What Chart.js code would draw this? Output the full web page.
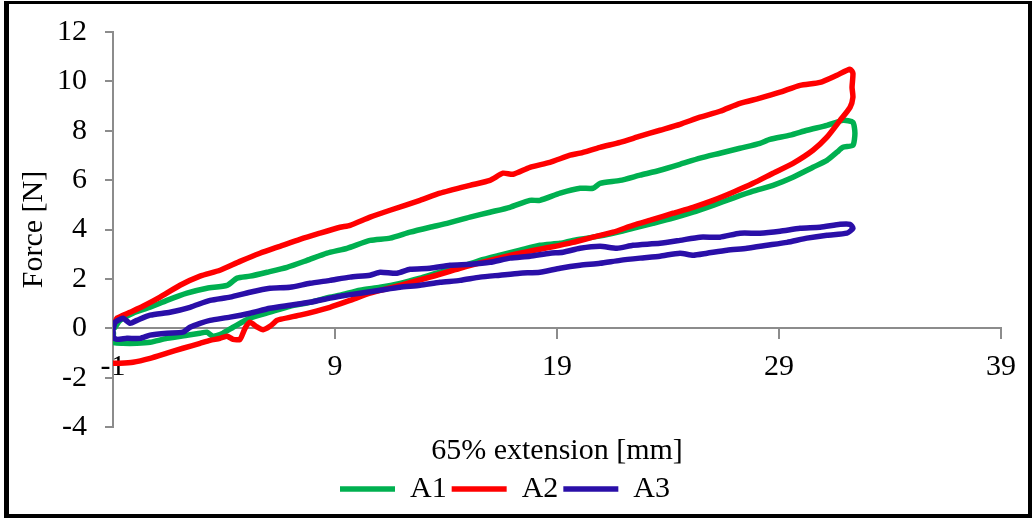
<!DOCTYPE html>
<html>
<head>
<meta charset="utf-8">
<script src="https://cdn.jsdelivr.net/npm/chart.js@4"></script>
<style>
  body { margin: 0; background: #fff; }
  #frame {
    position: absolute; left: 4px; top: 1px;
    width: 1019px; height: 510px;
    border-left: 5px solid #000; border-top: 3px solid #000;
    border-right: 4px solid #000; border-bottom: 4px solid #000;
  }
</style>
</head>
<body>
<div id="frame"><canvas id="chart"></canvas></div>
<script>
// extension [mm] / force [N]
const a1Ext = [-0.91, -0.68, -0.10, 0.67, 1.43, 2.33, 3.23, 4.14, 4.59, 5.17, 5.94, 6.84, 7.74, 8.64, 9.54, 10.58, 11.48, 12.38, 13.28, 14.05, 15.08, 15.98, 16.88, 17.78, 18.23, 19.14, 20.04, 20.62, 20.94, 21.84, 22.74, 23.64, 24.54, 25.44, 26.34, 27.24, 28.14, 28.59, 29.50, 30.26, 31.16, 31.88, 32.33, 32.42, 32.33, 31.88, 31.61, 31.16, 30.53, 29.63, 28.73, 27.83, 26.93, 26.03, 25.13, 24.23, 23.32, 22.42, 21.52, 20.62, 19.72, 19.14, 18.23, 17.33, 16.43, 15.53, 14.63, 13.73, 12.83, 11.93, 11.03, 10.13, 9.23, 8.77, 7.87, 6.97, 6.07, 5.17, 4.41, 3.95, 3.50, 3.23, 2.92, 2.33, 1.43, 0.67, 0.08, -0.55, -1.00, -0.98];
const a1Force = [0.04, 0.32, 0.61, 0.85, 1.13, 1.42, 1.62, 1.74, 2.03, 2.11, 2.27, 2.47, 2.75, 3.04, 3.24, 3.56, 3.65, 3.89, 4.09, 4.25, 4.50, 4.70, 4.90, 5.18, 5.18, 5.47, 5.67, 5.67, 5.87, 5.99, 6.20, 6.40, 6.64, 6.89, 7.09, 7.29, 7.49, 7.65, 7.82, 8.02, 8.22, 8.42, 8.34, 7.90, 7.41, 7.33, 7.13, 6.80, 6.52, 6.12, 5.79, 5.55, 5.27, 4.98, 4.70, 4.46, 4.25, 4.05, 3.85, 3.69, 3.56, 3.44, 3.36, 3.16, 2.96, 2.75, 2.47, 2.27, 2.03, 1.82, 1.66, 1.54, 1.34, 1.26, 1.05, 0.89, 0.65, 0.41, 0.04, -0.20, -0.32, -0.16, -0.20, -0.28, -0.41, -0.57, -0.61, -0.61, -0.57, -0.20];

const a2Ext = [-0.91, -0.82, -0.23, 0.35, 1.12, 2.02, 2.92, 3.82, 4.72, 5.62, 6.52, 7.42, 8.32, 9.23, 9.68, 10.58, 11.48, 12.83, 13.73, 15.08, 15.98, 16.57, 17.02, 17.78, 18.68, 19.59, 20.04, 20.94, 21.84, 22.74, 23.64, 24.54, 25.44, 26.34, 27.24, 28.14, 29.05, 29.95, 30.85, 31.61, 32.20, 32.33, 32.29, 32.33, 32.20, 31.75, 31.16, 30.53, 29.63, 28.73, 27.83, 26.93, 26.03, 25.13, 24.23, 23.32, 22.42, 21.52, 20.62, 19.72, 18.68, 17.33, 15.98, 14.63, 13.28, 11.93, 10.58, 9.68, 8.77, 7.42, 6.52, 6.39, 6.07, 5.76, 5.49, 5.17, 4.95, 4.72, 4.41, 4.14, 3.82, 3.37, 2.92, 2.15, 1.43, 0.67, -0.10, -0.68, -1.00];
const a2Force = [0.24, 0.41, 0.65, 0.89, 1.26, 1.74, 2.11, 2.35, 2.71, 3.04, 3.32, 3.60, 3.85, 4.09, 4.17, 4.50, 4.78, 5.18, 5.47, 5.79, 5.99, 6.28, 6.24, 6.52, 6.72, 7.01, 7.09, 7.33, 7.53, 7.78, 8.02, 8.26, 8.55, 8.79, 9.11, 9.32, 9.56, 9.84, 9.96, 10.25, 10.49, 10.33, 9.76, 9.36, 8.95, 8.42, 7.74, 7.21, 6.68, 6.28, 5.87, 5.51, 5.18, 4.90, 4.66, 4.41, 4.17, 3.89, 3.69, 3.48, 3.28, 3.04, 2.75, 2.43, 2.07, 1.74, 1.42, 1.13, 0.85, 0.53, 0.36, 0.32, 0.08, -0.06, 0.05, 0.24, 0.00, -0.45, -0.45, -0.32, -0.41, -0.49, -0.61, -0.81, -1.01, -1.22, -1.38, -1.42, -1.42];

const a3Ext = [-1.00, -0.91, -0.77, -0.55, -0.23, 0.08, 0.67, 1.57, 2.47, 3.37, 4.27, 5.17, 6.07, 6.97, 7.87, 8.77, 9.68, 10.58, 11.03, 11.79, 12.38, 13.28, 14.18, 15.08, 15.98, 16.88, 17.78, 18.68, 19.27, 20.04, 20.94, 21.70, 22.42, 23.64, 24.54, 25.44, 26.34, 27.24, 28.14, 29.05, 29.95, 30.85, 31.75, 32.20, 32.33, 32.06, 31.16, 30.26, 29.36, 28.46, 27.56, 26.66, 25.76, 25.13, 24.54, 23.64, 22.74, 21.84, 20.94, 20.04, 19.14, 18.23, 17.33, 16.43, 15.53, 14.63, 13.73, 12.83, 11.93, 11.03, 10.13, 9.23, 8.77, 7.87, 6.97, 6.07, 5.17, 4.27, 3.37, 2.92, 2.47, 2.15, 1.43, 0.67, 0.22, -0.37, -0.82, -1.00, -1.00];
const a3Force = [-0.08, 0.24, 0.32, 0.41, 0.20, 0.32, 0.53, 0.65, 0.85, 1.13, 1.26, 1.46, 1.62, 1.66, 1.82, 1.94, 2.07, 2.15, 2.27, 2.23, 2.39, 2.43, 2.55, 2.59, 2.67, 2.84, 2.92, 3.04, 3.08, 3.24, 3.32, 3.24, 3.36, 3.44, 3.56, 3.69, 3.69, 3.85, 3.85, 3.93, 4.05, 4.09, 4.21, 4.21, 4.05, 3.85, 3.77, 3.65, 3.48, 3.36, 3.24, 3.16, 3.04, 2.96, 3.04, 2.92, 2.84, 2.75, 2.63, 2.55, 2.43, 2.27, 2.23, 2.15, 2.07, 1.94, 1.86, 1.74, 1.66, 1.54, 1.42, 1.30, 1.22, 1.05, 0.93, 0.81, 0.61, 0.45, 0.32, 0.20, 0.04, -0.16, -0.20, -0.28, -0.41, -0.41, -0.45, -0.36, -0.08];

const seriesNames = ['A1', 'A2', 'A3'];
const seriesColors = ['#00b050', '#ff0000', '#2a0fa8'];
const xTickValues = [-1, 9, 19, 29, 39];

Chart.defaults.font.family = "'Liberation Serif', 'Times New Roman', serif";
Chart.defaults.font.size = 30;
Chart.defaults.color = '#000';

function toPoints(xs, ys) {
    return xs.map((x, i) => ({ x, y: ys[i] }));
}

const allSeries = [[a1Ext, a1Force], [a2Ext, a2Force], [a3Ext, a3Force]];
const datasets = allSeries.map(([xs, ys], i) => ({
    label: seriesNames[i],
    data: toPoints(xs, ys),
    showLine: true,
    borderColor: seriesColors[i],
    backgroundColor: seriesColors[i],
    borderWidth: 5.5,
    borderJoinStyle: 'round',
    borderCapStyle: 'round',
    pointRadius: 0,
    tension: 0.2,
    // Excel draws later series on top
    order: 2 - i,
}));

const axisGray = '#8c8c8c';

new Chart(document.getElementById('chart'), {
    type: 'scatter',
    data: { datasets },
    options: {
        responsive: true,
        maintainAspectRatio: false,
        animation: false,
        layout: { padding: { left: 0, top: 28, right: 27, bottom: 0 } },
        scales: {
            x: {
                type: 'linear',
                position: { y: 0 },
                min: -1,
                max: 39,
                afterBuildTicks: (axis) => {
                    axis.ticks = xTickValues.map(v => ({ value: v }));
                },
                grid: { drawOnChartArea: false, color: axisGray, lineWidth: 2, tickLength: 10 },
                border: { color: axisGray, width: 2 },
                ticks: { padding: 11, maxRotation: 0 },
            },
            y: {
                min: -4,
                max: 12,
                ticks: { stepSize: 2, padding: 18 },
                grid: { drawOnChartArea: false, color: axisGray, lineWidth: 2, tickLength: 8 },
                border: { color: axisGray, width: 2 },
                title: { display: true, text: 'Force [N]', padding: { top: 7, bottom: 4 } },
                afterFit: (scale) => {
                    scale.width = 104;
                    scale.paddingTop = 0;
                    scale.paddingBottom = 0;
                },
            },
        },
        plugins: {
            title: {
                display: true,
                text: '65% extension [mm]',
                position: 'bottom',
                fullSize: false,
                weight: 500,
                font: { size: 30, weight: 'normal' },
                padding: { top: 6, bottom: 0 },
            },
            legend: {
                position: 'bottom',
                labels: {
                    usePointStyle: true,
                    pointStyle: 'line',
                    pointStyleWidth: 55,
                    boxHeight: 30,
                    padding: 5,
                    sort: (a, b) => a.datasetIndex - b.datasetIndex,
                },
            },
            tooltip: { enabled: false },
        },
    },
});
</script>
</body>
</html>
